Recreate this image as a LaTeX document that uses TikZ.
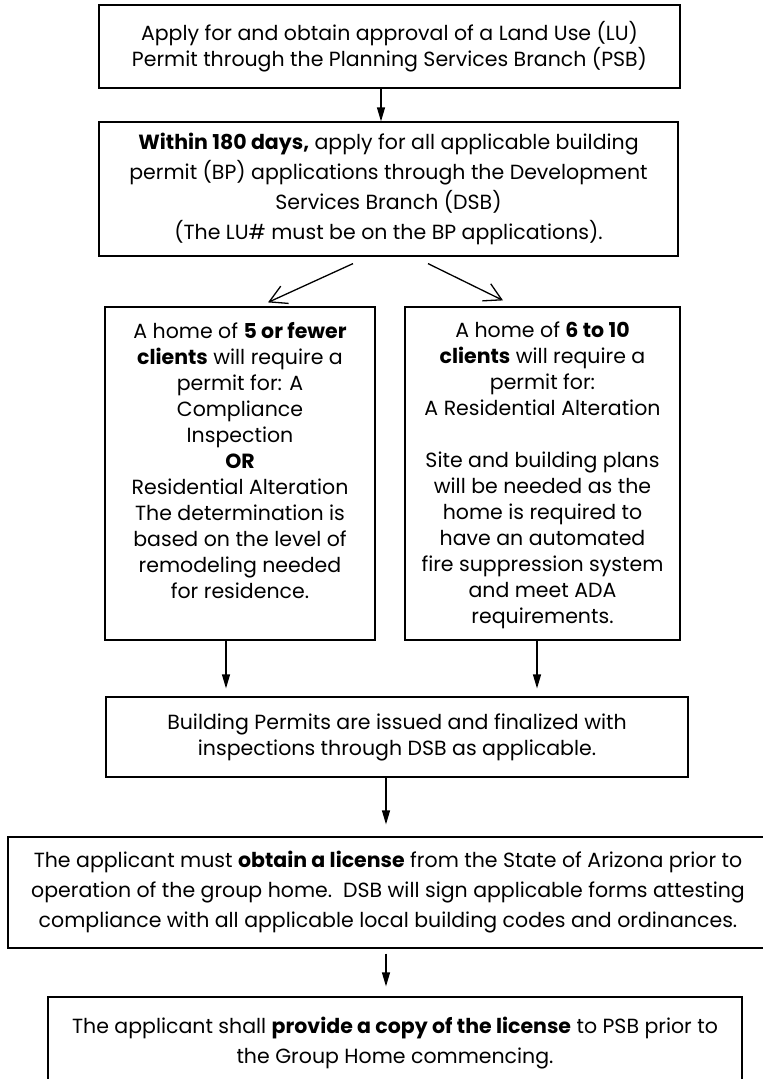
\documentclass[tikz,border=0pt]{standalone}
\usepackage{fontspec}
\setmainfont{Poppins}
\usetikzlibrary{arrows.meta}

\begin{document}
\begin{tikzpicture}[x=1pt,y=-1pt,
  box/.style={draw,line width=1.2pt,align=center,inner sep=0pt,font=\fontsize{20.5}{26}\selectfont},
  tall/.style={box,minimum height=333pt,inner ysep=15pt},
  flow/.style={line width=1.2pt,-{Triangle[length=14pt,width=8pt]}},
  split/.style={line width=1.3pt,-{Straight Barb[length=17pt,width=19pt]}}]
\useasboundingbox (0,0) rectangle (763,1079);

\node[box,minimum width=581pt,minimum height=83pt] (landuse) at (389.5,46.5)
  {Apply for and obtain approval of a Land Use (LU)\\Permit through the Planning Services Branch (PSB)};
\node[box,minimum width=579pt,minimum height=134pt,font=\fontsize{20.5}{30}\selectfont] (within) at (388.5,189)
  {\textbf{Within 180 days,} apply for all applicable building\\permit (BP) applications through the Development\\Services Branch (DSB)\\(The LU\# must be on the BP applications).};

\node[tall,minimum width=270pt] (few) at (240,473.5)
  {\parbox[c][303pt][t]{262pt}{\centering A home of \textbf{5 or fewer}\\\textbf{clients} will require a\\permit for: A\\Compliance\\Inspection\\\textbf{OR}\\Residential Alteration\\The determination is\\based on the level of\\remodeling needed\\for residence.}};
\node[tall,minimum width=275pt] (many) at (542.5,473.5)
  {\parbox[c][303pt][t]{267pt}{\centering A home of \textbf{6 to 10}\\\textbf{clients} will require a\\permit for:\\A Residential Alteration\\[26pt]Site and building plans\\will be needed as the\\home is required to\\have an automated\\fire suppression system\\and meet ADA\\requirements.}};

\node[box,minimum width=582pt,minimum height=80pt] (permits) at (397,737)
  {Building Permits are issued and finalized with\\inspections through DSB as applicable.};
\node[box,minimum width=760pt,minimum height=111pt,font=\fontsize{20.5}{30}\selectfont] (license) at (388,892.5)
  {The applicant must \textbf{obtain a license} from the State of Arizona prior to\\operation of the group home.\ \ DSB will sign applicable forms attesting\\compliance with all applicable local building codes and ordinances.};
\node[box,minimum width=694pt,minimum height=92pt,font=\fontsize{20.5}{30}\selectfont] (copy) at (395,1043)
  {The applicant shall \textbf{provide a copy of the license} to PSB prior to\\the Group Home commencing.};

\draw[flow] ([xshift=-8.5pt]landuse.south) -- ([xshift=-7.5pt]within.north);
\draw[split] ([xshift=-35.5pt,yshift=-7pt]within.south) -- ([xshift=28pt,yshift=4pt]few.north);
\draw[split] ([xshift=39.5pt,yshift=-7pt]within.south) -- ([xshift=-39.5pt,yshift=6pt]many.north);
\draw[flow] ([xshift=-14pt]few.south) -- ([xshift=-14pt,yshift=8pt]few.south |- permits.north);
\draw[flow] ([xshift=-5.5pt]many.south) -- ([xshift=-5.5pt,yshift=8pt]many.south |- permits.north);
\draw[flow] ([xshift=-11pt]permits.south) -- ([xshift=-2pt,yshift=12pt]license.north);
\draw[flow] ([xshift=-2pt,yshift=-5pt]license.south) -- ([xshift=-9pt,yshift=10pt]copy.north);
\end{tikzpicture}
\end{document}
